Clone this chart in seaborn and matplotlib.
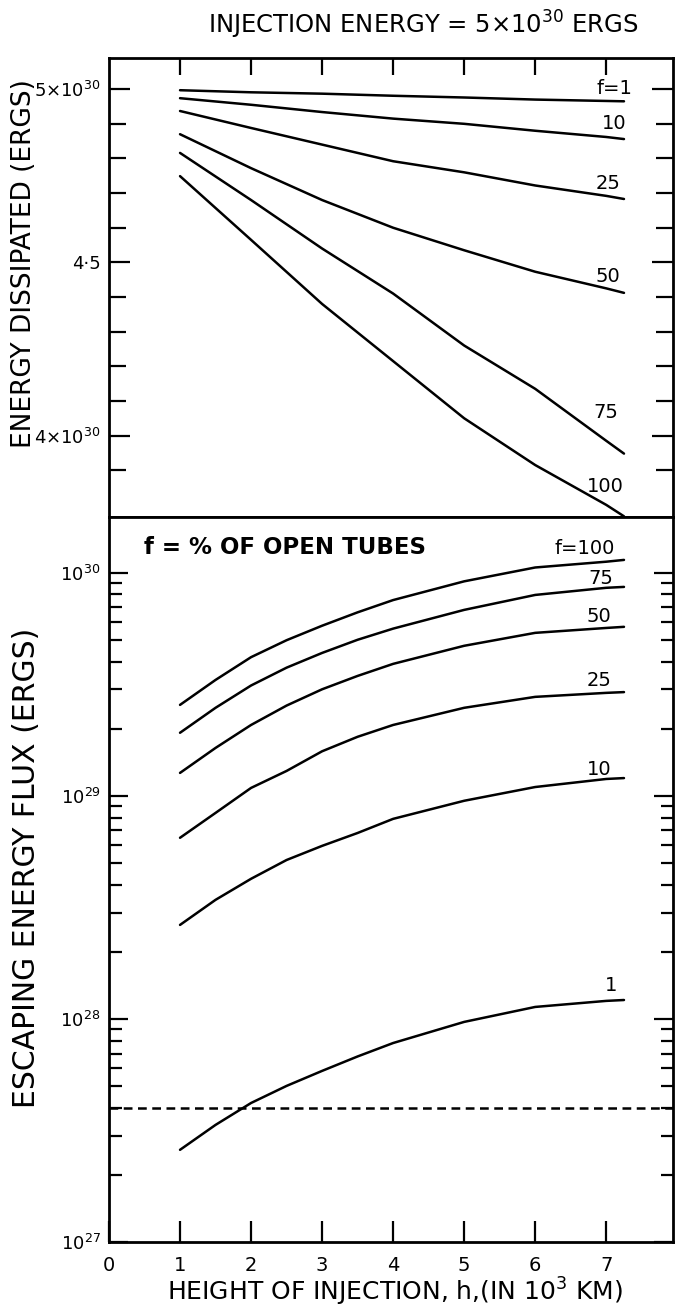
import numpy as np
import pandas as pd
import matplotlib
matplotlib.use("Agg")
import matplotlib.pyplot as plt
import matplotlib.ticker as mticker
import seaborn as sns

# height of injection h (10^3 km)
h_top = [1, 2, 3, 4, 5, 6, 7, 7.25]
h_bot = [1, 1.5, 2, 2.5, 3, 3.5, 4, 5, 6, 7, 7.25]
f_values = [1, 10, 25, 50, 75, 100]

# energy dissipated, in units of 10^30 ergs (top panel)
diss_f1 = [4.997, 4.991, 4.987, 4.981, 4.976, 4.970, 4.966, 4.965]
diss_f10 = [4.974, 4.955, 4.934, 4.915, 4.900, 4.880, 4.862, 4.856]
diss_f25 = [4.937, 4.888, 4.840, 4.792, 4.760, 4.722, 4.692, 4.683]
diss_f50 = [4.870, 4.772, 4.680, 4.600, 4.535, 4.473, 4.425, 4.412]
diss_f75 = [4.816, 4.680, 4.540, 4.410, 4.260, 4.135, 3.985, 3.948]
diss_f100 = [4.749, 4.565, 4.380, 4.215, 4.050, 3.915, 3.800, 3.767]

# escaping energy flux, ergs (bottom panel)
esc_f1 = [2.59e27, 3.35e27, 4.20e27, 5.01e27, 5.85e27, 6.79e27, 7.80e27, 9.70e27,
          1.132e28, 1.205e28, 1.216e28]
esc_f10 = [2.64e28, 3.42e28, 4.25e28, 5.16e28, 5.97e28, 6.82e28, 7.89e28, 9.51e28,
           1.096e29, 1.191e29, 1.202e29]
esc_f25 = [6.49e28, 8.39e28, 1.086e29, 1.294e29, 1.585e29, 1.841e29, 2.080e29, 2.483e29,
           2.780e29, 2.897e29, 2.92e29]
esc_f50 = [1.268e29, 1.641e29, 2.080e29, 2.541e29, 3.006e29, 3.451e29, 3.908e29, 4.710e29,
           5.383e29, 5.662e29, 5.728e29]
esc_f75 = [1.919e29, 2.483e29, 3.126e29, 3.758e29, 4.375e29, 5.012e29, 5.623e29, 6.823e29,
           7.962e29, 8.570e29, 8.650e29]
esc_f100 = [2.559e29, 3.311e29, 4.188e29, 4.989e29, 5.794e29, 6.653e29, 7.551e29, 9.162e29,
            1.057e30, 1.122e30, 1.143e30]

closed_level = 4.0e27  # dashed line

diss_all = [diss_f1, diss_f10, diss_f25, diss_f50, diss_f75, diss_f100]
esc_all = [esc_f1, esc_f10, esc_f25, esc_f50, esc_f75, esc_f100]

top_df = pd.DataFrame([(f, x, v) for f, ys in zip(f_values, diss_all) for x, v in zip(h_top, ys)],
                      columns=["f", "h", "E"])
bot_df = pd.DataFrame([(f, x, v) for f, ys in zip(f_values, esc_all) for x, v in zip(h_bot, ys)],
                      columns=["f", "h", "E"])

sns.set_style("white")
plt.rcParams["font.family"] = ["DejaVu Sans"]
plt.rcParams["mathtext.fontset"] = "dejavusans"
plt.rcParams["text.color"] = "black"
plt.rcParams["xtick.color"] = "black"
plt.rcParams["ytick.color"] = "black"
plt.rcParams["xtick.labelcolor"] = "black"
plt.rcParams["ytick.labelcolor"] = "black"

W, H = 678, 1306
fig = plt.figure(figsize=(W / 100, H / 100), dpi=100)
L, R = 109 / W, 673 / W
ax1 = fig.add_axes([L, 789 / H, R - L, (1248 - 789) / H])
ax2 = fig.add_axes([L, 64 / H, R - L, (789 - 64) / H])

sns.lineplot(data=top_df, x="h", y="E", units="f", estimator=None,
             color="black", linewidth=1.8, ax=ax1)
sns.lineplot(data=bot_df, x="h", y="E", units="f", estimator=None,
             color="black", linewidth=1.8, ax=ax2)
ax2.axhline(closed_level, color="black", lw=1.8, dashes=(3.5, 2.2))

for ax in (ax1, ax2):
    ax.set_xlim(0, 7.94)
    ax.set_xlabel("")
    ax.set_ylabel("")
    for s in ax.spines.values():
        s.set_color("black")
        s.set_linewidth(2)

# top panel
ax1.set_ylim(3.765, 5.09)
ax1.xaxis.set_ticks_position("top")
ax1.set_xticks(range(1, 8))
ax1.tick_params(axis="x", direction="in", length=12, width=1.6, labeltop=False, labelbottom=False)
ax1.yaxis.set_ticks_position("both")
ax1.set_yticks([4.0, 4.5, 5.0])
ax1.set_yticklabels(["4×10$^{30}$", "4·5", "5×10$^{30}$"])
ax1.set_yticks(np.arange(3.9, 5.01, 0.1), minor=True)
ax1.tick_params(axis="y", which="major", direction="in", length=15, width=1.6,
                labelsize=13, pad=6)
ax1.tick_params(axis="y", which="minor", direction="in", length=12, width=1.6)

# bottom panel
ax2.set_yscale("log")
ax2.set_ylim(1e27, 1.78e30)
ax2.yaxis.set_ticks_position("both")
ax2.set_yticks([1e27, 1e28, 1e29, 1e30])
ax2.yaxis.set_minor_locator(mticker.LogLocator(base=10, subs=np.arange(2, 10)))
ax2.yaxis.set_minor_formatter(mticker.NullFormatter())
ax2.tick_params(axis="y", which="major", direction="in", length=14, width=1.6,
                labelsize=13, pad=6)
ax2.tick_params(axis="y", which="minor", direction="in", length=9, width=1.6)
ax2.xaxis.set_ticks_position("bottom")
ax2.set_xticks(range(0, 8))
ax2.tick_params(axis="x", direction="in", length=15, width=1.6, labelsize=14, pad=10)

# curve labels
lab_kw = dict(ha="center", va="center", fontsize=14, color="black")
top_labels = [("f=1", 7.11, 5.003), ("10", 7.11, 4.902), ("25", 7.03, 4.729),
              ("50", 7.03, 4.458), ("75", 6.99, 4.066), ("100", 6.99, 3.853)]
for t, x, y in top_labels:
    ax1.text(x, y, t, **lab_kw)
bot_labels = [("f=100", 6.69, 1.28e30), ("75", 6.93, 9.4e29), ("50", 6.90, 6.35e29),
              ("25", 6.90, 3.28e29), ("10", 6.90, 1.32e29), ("1", 7.07, 1.41e28)]
for t, x, y in bot_labels:
    ax2.text(x, y, t, **lab_kw)

fig.text(144 / W, 1 - 548 / H, "f = % OF OPEN TUBES", ha="left", va="center",
         fontsize=16.5, fontweight="bold")
fig.text(423 / W, 1 - 25 / H, "INJECTION ENERGY = 5×10$^{30}$ ERGS",
         ha="center", va="center", fontsize=17.5)
fig.text(24 / W, 1 - 264 / H, "ENERGY DISSIPATED (ERGS)", rotation=90,
         ha="center", va="center", fontsize=19)
fig.text(27 / W, 1 - 868 / H, "ESCAPING ENERGY FLUX (ERGS)", rotation=90,
         ha="center", va="center", fontsize=21.5)
fig.text(395 / W, 1 - 1292 / H, "HEIGHT OF INJECTION, h,(IN 10$^{3}$ KM)",
         ha="center", va="center", fontsize=18)

fig.savefig("out.png", dpi=100)
